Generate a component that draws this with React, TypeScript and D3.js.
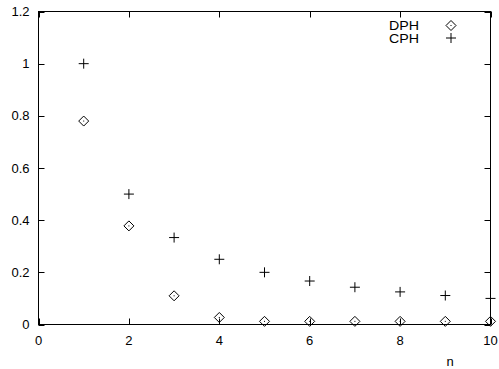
import React from "react";
import * as d3 from "d3";

const nValues = [1, 2, 3, 4, 5, 6, 7, 8, 9, 10];
const dphValues = [0.78, 0.378, 0.11, 0.027, 0.012, 0.012, 0.012, 0.012, 0.012, 0.012];
const cphValues = [1, 0.5, 0.3333, 0.25, 0.2, 0.1667, 0.1429, 0.125, 0.1111, 0.1];
const xTicks = [0, 2, 4, 6, 8, 10];
const yTicks = [0, 0.2, 0.4, 0.6, 0.8, 1, 1.2];
const seriesNames = ["DPH", "CPH"];

const W = 499, H = 369;
const L = 38.5, R = 490.5, T = 11.5, B = 324.5;
const font = "'Liberation Sans', Arial, Helvetica, sans-serif";
const fs = 13;

function Diamond({ x, y }: { x: number; y: number }) {
  const s = 5;
  return (
    <g>
      <path d={`M${x},${y - s}L${x + s},${y}L${x},${y + s}L${x - s},${y}Z`} fill="none" stroke="#000" strokeWidth={1} />
      <rect x={x - 0.5} y={y - 0.5} width={1} height={1} fill="#000" />
    </g>
  );
}
function Plus({ x, y }: { x: number; y: number }) {
  const s = 5;
  return (
    <path d={`M${x - s},${y}H${x + s}M${x},${y - s}V${y + s}`} stroke="#000" strokeWidth={1} fill="none" />
  );
}

export default function App() {
  const xs = d3.scaleLinear().domain([0, 10]).range([L, R]);
  const ys = d3.scaleLinear().domain([0, 1.2]).range([B, T]);
  const tk = 6;
  return (
    <svg width={W} height={H} style={{ position: "absolute", left: 0, top: 0, background: "#fff" }}>
      <rect x={0} y={0} width={W} height={H} fill="#fff" />
      {xTicks.map((t) => {
        const x = Math.round(xs(t)) + 0.5;
        return (
          <g key={"x" + t}>
            <line x1={x} x2={x} y1={B} y2={B - tk} stroke="#000" />
            <line x1={x} x2={x} y1={T} y2={T + tk} stroke="#000" />
            <text x={xs(t)} y={345} textAnchor="middle" fontFamily={font} fontSize={fs} fill="#000">{t}</text>
          </g>
        );
      })}
      {yTicks.map((t) => {
        const y = Math.round(ys(t)) + 0.5;
        return (
          <g key={"y" + t}>
            <line x1={L} x2={L + tk} y1={y} y2={y} stroke="#000" />
            <line x1={R} x2={R - tk} y1={y} y2={y} stroke="#000" />
            <text x={29.5} y={ys(t) + 4.5} textAnchor="end" fontFamily={font} fontSize={fs} fill="#000">{String(t)}</text>
          </g>
        );
      })}
      <rect x={L} y={T} width={R - L} height={B - T} fill="none" stroke="#000" strokeWidth={1} />
      {nValues.map((n, i) => (
        <Diamond key={"d" + n} x={xs(n)} y={ys(dphValues[i])} />
      ))}
      {nValues.map((n, i) => (
        <Plus key={"c" + n} x={xs(n)} y={ys(cphValues[i])} />
      ))}
      <text x={389} y={29.5} fontFamily={font} fontSize={12.5} textLength={30} lengthAdjust="spacingAndGlyphs" fill="#000">{seriesNames[0]}</text>
      <text x={389} y={43} fontFamily={font} fontSize={12.5} textLength={30} lengthAdjust="spacingAndGlyphs" fill="#000">{seriesNames[1]}</text>
      <Diamond x={451} y={25.5} />
      <Plus x={451} y={38} />
      <text x={450} y={366} textAnchor="middle" fontFamily={font} fontSize={fs} fill="#000">n</text>
    </svg>
  );
}
